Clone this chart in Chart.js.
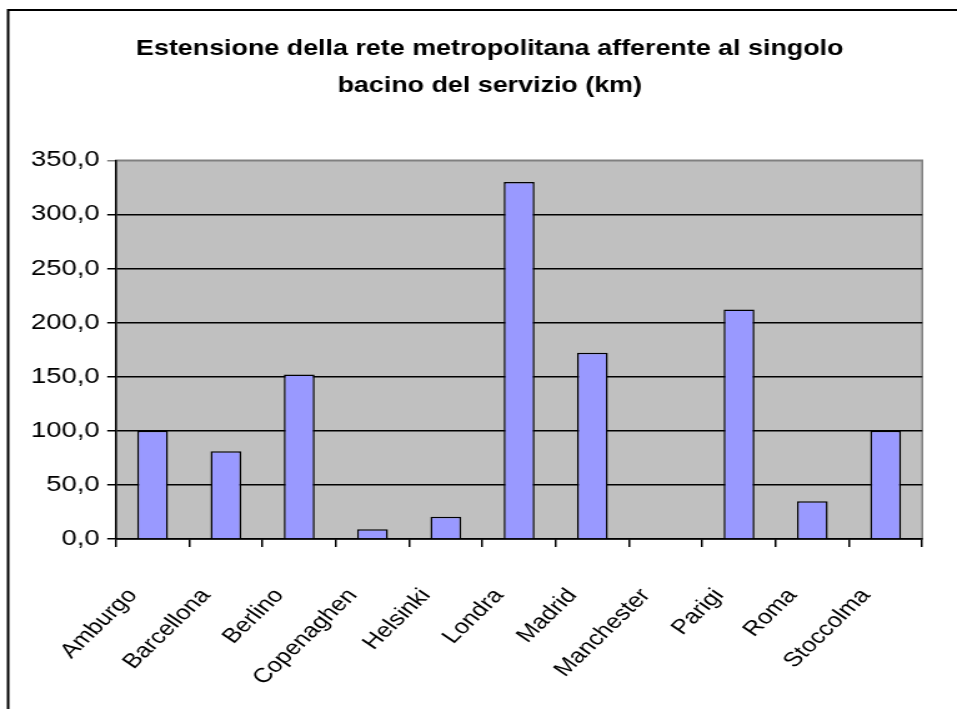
<!DOCTYPE html>
<html>
<head>
<meta charset="utf-8">
<script src="https://cdn.jsdelivr.net/npm/chart.js@4/dist/chart.umd.min.js"></script>
<style>
  html, body { margin: 0; padding: 0; background: #fff; overflow: hidden; }
  /* the original chart is stretched horizontally, so draw narrow and widen */
  #chart { display: block; width: 766px; height: 709px; transform: scaleX(1.2493); transform-origin: 0 0; }
</style>
</head>
<body>
<canvas id="chart" width="766" height="709"></canvas>
<script>
// Dati
const citta = ['Amburgo', 'Barcellona', 'Berlino', 'Copenaghen', 'Helsinki', 'Londra',
  'Madrid', 'Manchester', 'Parigi', 'Roma', 'Stoccolma'];
const estensioneKm = [100, 81, 152, 9, 20.5, 330, 172, 0, 212, 35, 100];
const yTicks = [0, 50, 100, 150, 200, 250, 300, 350];
const titolo = ['Estensione della rete metropolitana afferente al singolo', 'bacino del servizio (km)'];

const FONT = "'Liberation Sans', Arial, sans-serif";

// sfondo grigio dell'area del grafico + cornice esterna
const cornice = {
  id: 'cornice',
  beforeDraw(chart) {
    const { ctx, chartArea: a } = chart;
    ctx.save();
    ctx.fillStyle = '#fff';
    ctx.fillRect(0, 0, chart.width, chart.height);
    ctx.strokeStyle = '#000';
    ctx.lineWidth = 2;
    ctx.strokeRect(6.5, 10, chart.width + 50, chart.height + 50);
    ctx.fillStyle = '#C0C0C0';
    ctx.fillRect(a.left, a.top, a.right - a.left, a.bottom - a.top);
    ctx.strokeStyle = '#808080';
    ctx.lineWidth = 1.5;
    ctx.strokeRect(a.left, a.top, a.right - a.left, a.bottom - a.top);
    ctx.restore();
  }
};

new Chart(document.getElementById('chart').getContext('2d'), {
  type: 'bar',
  data: {
    labels: citta,
    datasets: [{
      data: estensioneKm,
      backgroundColor: '#9999FF',
      borderColor: '#000',
      borderWidth: 1.5,
      barPercentage: 0.42,
      categoryPercentage: 1
    }]
  },
  plugins: [cornice],
  options: {
    responsive: false,
    animation: false,
    devicePixelRatio: 1,
    layout: { padding: { top: 10, left: 45.6, right: 27.6, bottom: 0 } },
    plugins: {
      legend: { display: false },
      tooltip: { enabled: false },
      title: {
        display: true,
        text: titolo,
        color: '#000',
        font: { family: FONT, size: 21.5, weight: 'bold', lineHeight: 1.75 },
        padding: { top: 20, bottom: 55 }
      }
    },
    scales: {
      x: {
        grid: { offset: true, drawOnChartArea: false, color: '#000', tickLength: 8, lineWidth: 1.5 },
        border: { color: '#000', width: 1.5 },
        ticks: {
          color: '#000',
          font: { family: FONT, size: 20.5 },
          minRotation: 50,
          maxRotation: 50,
          autoSkip: false,
          labelOffset: -16,
          padding: 37
        },
        afterFit(s) { s.height = 170; }
      },
      y: {
        min: 0,
        max: 350,
        afterBuildTicks(s) { s.ticks = yTicks.map(v => ({ value: v })); },
        grid: {
          color: c => (c.tick && c.tick.value === 350) ? '#808080' : '#000',
          lineWidth: 1.5,
          tickLength: 7
        },
        border: { color: '#000', width: 1.5 },
        ticks: {
          color: '#000',
          font: { family: FONT, size: 22 },
          padding: 6,
          callback: v => v.toFixed(1).replace('.', ',')
        },
        afterFit(s) { s.width = 47.2; },
        // le etichette escono a sinistra del riquadro dell'asse: niente ritaglio
        afterUpdate(s) { s._computeLabelArea = () => undefined; }
      }
    }
  }
});
</script>
</body>
</html>
